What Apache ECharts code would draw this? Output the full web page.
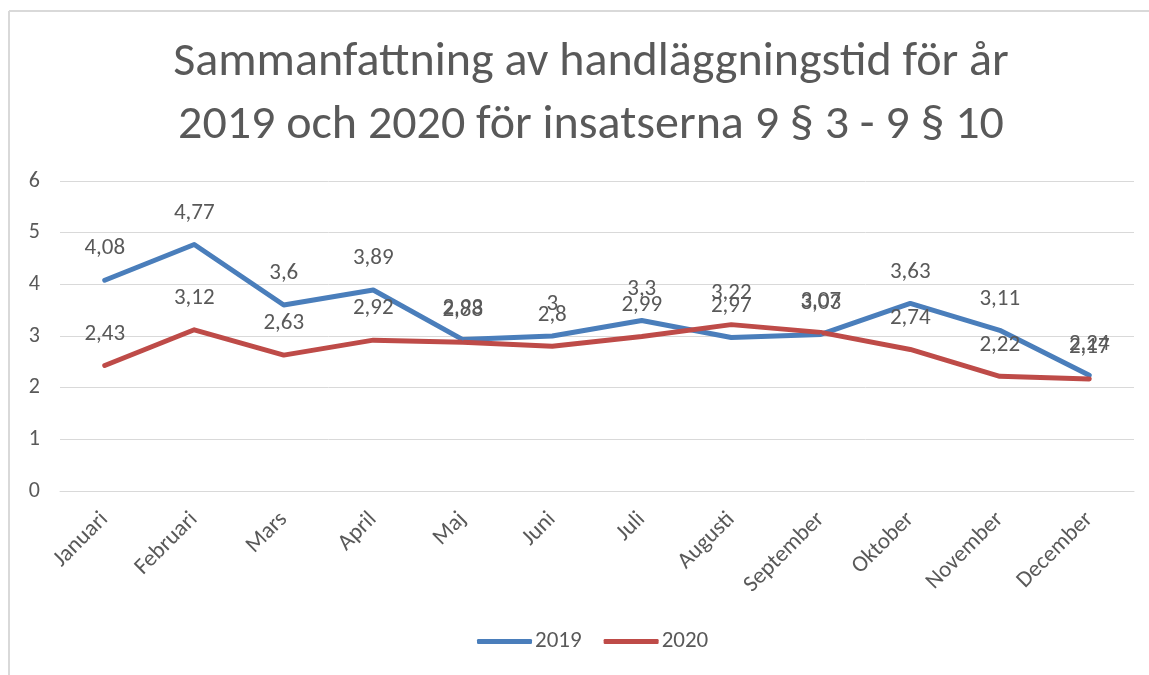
<!DOCTYPE html>
<html>
<head>
<meta charset="utf-8">
<script src="https://cdn.jsdelivr.net/npm/echarts@6/dist/echarts.min.js"></script>
<style>
  html, body { margin: 0; padding: 0; background: #fff; }
  #chart { width: 1149px; height: 675px; }
</style>
</head>
<body>
<div id="chart"></div>
<script>
const months = ["Januari", "Februari", "Mars", "April", "Maj", "Juni", "Juli",
  "Augusti", "September", "Oktober", "November", "December"];
const values2019 = [4.08, 4.77, 3.6, 3.89, 2.93, 3, 3.3, 2.97, 3.03, 3.63, 3.11, 2.24];
const values2020 = [2.43, 3.12, 2.63, 2.92, 2.88, 2.8, 2.99, 3.22, 3.07, 2.74, 2.22, 2.17];

const textColor = "#595959";
const font = "Calibri, Carlito, 'Liberation Sans', 'DejaVu Sans', sans-serif";

const fmt = p => String(p.value).replace(".", ",");

const makeSeries = (name, data, color) => ({
  name: name,
  type: "line",
  data: data,
  symbol: "circle",
  symbolSize: 2,
  showSymbol: true,
  smooth: false,
  lineStyle: { width: 5, color: color, cap: "round", join: "round" },
  itemStyle: { color: color },
  label: {
    show: true,
    position: "top",
    distance: 19,
    formatter: fmt,
    color: textColor,
    fontSize: 23,
    fontFamily: font
  },
  labelLayout: { hideOverlap: false }
});

const chart = echarts.init(document.getElementById("chart"));
chart.setOption({
  animation: false,
  title: {
    text: "Sammanfattning av handläggningstid för år\n2019 och 2020 för insatserna 9 § 3 - 9 § 10",
    left: 586,
    textAlign: "center",
    top: 26,
    textStyle: {
      color: textColor,
      fontSize: 48,
      fontWeight: "normal",
      fontFamily: font,
      lineHeight: 63
    }
  },
  legend: {
    bottom: 17,
    left: 472,
    itemWidth: 55,
    itemHeight: 5,
    itemGap: 22,
    icon: "roundRect",
    textStyle: { color: textColor, fontSize: 23, fontFamily: font, padding: [0, 0, 0, -2] },
    data: ["2019", "2020"]
  },
  grid: { left: 60, right: 15, top: 181, bottom: 184, containLabel: false },
  xAxis: {
    type: "category",
    data: months,
    boundaryGap: true,
    axisLine: { show: true, lineStyle: { color: "#d9d9d9", width: 1 } },
    axisTick: { show: false },
    axisLabel: {
      rotate: 45,
      color: textColor,
      fontSize: 23,
      fontFamily: font,
      margin: 25,
      interval: 0
    }
  },
  yAxis: {
    type: "value",
    min: 0,
    max: 6,
    interval: 1,
    axisLine: { show: false },
    axisTick: { show: false },
    splitLine: { lineStyle: { color: "#d9d9d9", width: 1 } },
    axisLabel: {
      color: textColor,
      fontSize: 22,
      fontFamily: font,
      margin: 20
    }
  },
  graphic: [
    { type: "line", shape: { x1: 9, y1: 11, x2: 1149, y2: 11 }, style: { stroke: "#d9d9d9", lineWidth: 2 } },
    { type: "line", shape: { x1: 9, y1: 11, x2: 9, y2: 675 }, style: { stroke: "#d9d9d9", lineWidth: 2 } }
  ],
  series: [
    makeSeries("2019", values2019, "#4a7ebb"),
    makeSeries("2020", values2020, "#be4b48")
  ]
});
</script>
</body>
</html>
